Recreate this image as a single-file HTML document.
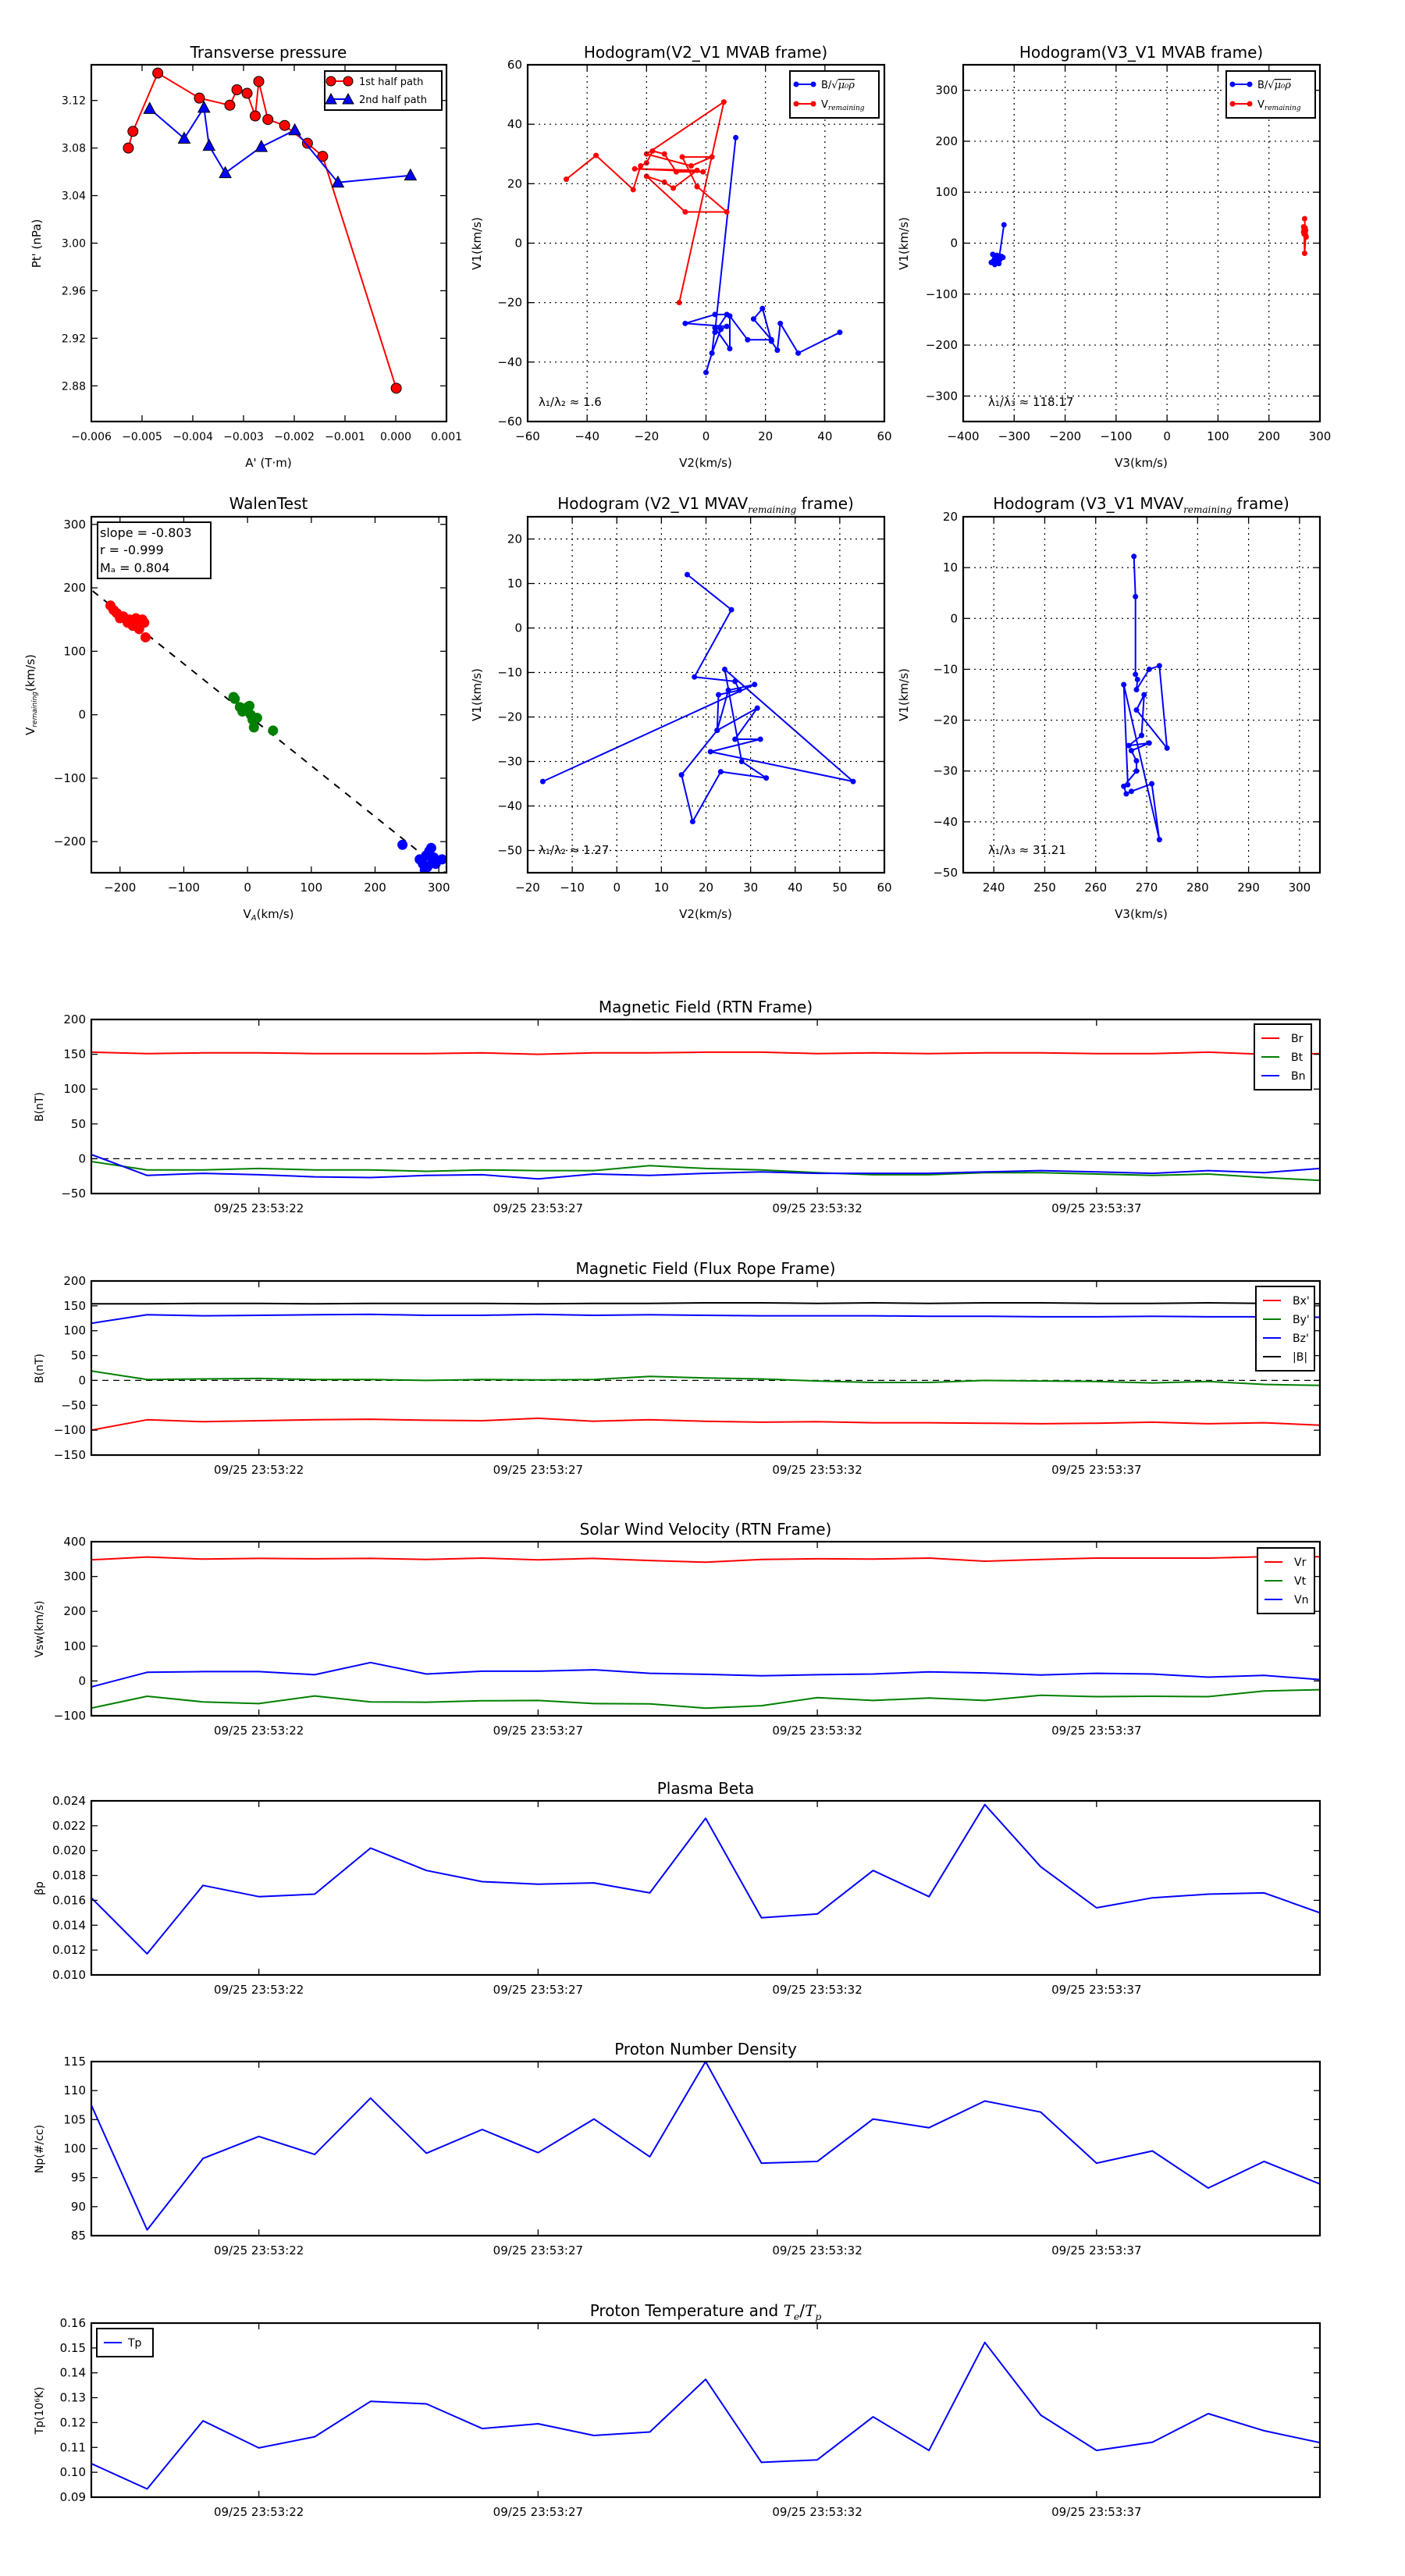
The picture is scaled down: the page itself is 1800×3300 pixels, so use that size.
<!DOCTYPE html>
<html><head><meta charset="utf-8">
<style>
html,body{margin:0;padding:0;background:#fff;}
svg{display:block;font-family:"DejaVu Sans","Liberation Sans",sans-serif;}
</style></head>
<body>
<svg id="chart" xmlns="http://www.w3.org/2000/svg" width="1800" height="3300" viewBox="0 0 1800 3300">
<rect x="0" y="0" width="1800" height="3300" fill="#fff"/>
</svg>
<script>
// ---------- data: transverse pressure ----------
const ptRedA = [-0.00527,-0.00518,-0.00469,-0.00387,-0.00327,-0.00313,-0.00293,-0.00277,-0.00270,-0.00252,-0.00219,-0.00174,-0.00144,0.00001];
const ptRedP = [3.080,3.094,3.143,3.122,3.116,3.129,3.126,3.107,3.136,3.104,3.099,3.084,3.073,2.878];
const ptBlueA = [-0.00485,-0.00417,-0.00378,-0.00368,-0.00336,-0.00265,-0.00199,-0.00114,0.00029];
const ptBlueP = [3.113,3.088,3.114,3.082,3.059,3.081,3.095,3.051,3.057];
// ---------- hodogram V2-V1 MVAB ----------
const h1RedV2 = [-47,-37,-24.5,-22,-20,-18,-14,-10,-1,-24,-3,-11,-14,-20,-7,7,-3,-8,2,-5,-20,6,-9];
const h1RedV1 = [21.5,29.5,18,26,27,31,30,24,24,25,24.5,18.5,20.5,22.5,10.5,10.5,19,29,29,26,30,47.5,-20];
const h1BlueV2 = [45,31,25,24,22,19,16,22,14,8,8,3,2,0,2,5,7,-7,3,7,3,10];
const h1BlueV1 = [-30,-37,-27,-36,-33,-22,-25.5,-32.5,-32.5,-24.5,-35.5,-28.5,-37,-43.5,-37,-29,-28,-27,-24,-24,-30,35.5];
// ---------- hodogram V3-V1 MVAB ----------
const h2BlueV3 = [-345,-338,-332,-340,-335,-328,-330,-342,-336,-325,-331,-338,-322,-334,-330,-320];
const h2BlueV1 = [-38,-30,-25,-34,-28,-32,-40,-22,-35,-26,-30,-42,-28,-24,-33,36];
const h2RedV3 = [270,271,268,272,269,270,273,271,269,270,272,268,271];
const h2RedV1 = [48,30,22,25,18,28,12,20,26,-20,15,32,22];
// ---------- Walen test ----------
const walRedX = [-215,-210,-205,-200,-195,-190,-188,-185,-180,-178,-175,-172,-170,-165,-162,-160];
const walRedY = [172,165,160,152,155,150,145,150,140,148,152,143,135,150,145,122];
const walGreenX = [-22,-20,-12,-8,-5,0,3,5,8,10,15,40];
const walGreenY = [28,25,12,5,8,12,14,0,-8,-20,-5,-25];
const walBlueX = [243,270,275,280,282,285,288,290,292,295,305,278];
const walBlueY = [-205,-228,-235,-222,-240,-215,-210,-230,-225,-235,-228,-245];
const walSlope = [-0.803];
// ---------- hodogram MVAV V2-V1 ----------
const h3V2 = [15.8,25.7,17.4,26.5,27.5,22.8,22.5,31.5,26.5,32.2,21,53,24.2,28,33.5,23.3,17,14.5,22.5,25,30.9,-16.6];
const h3V1 = [12,4.1,-11,-12,-14,-15,-23,-18,-25,-25,-27.8,-34.5,-9.3,-30,-33.7,-32.3,-43.5,-33,-23,-14,-12.7,-34.5];
// ---------- hodogram MVAV V3-V1 ----------
const h4V3 = [267.5,267.8,267.8,268.2,268,270.5,272.5,274,268,269.5,269,266.5,270.5,267,268,268,265.5,266,267,271,272.5,265.5,266.3];
const h4V1 = [12.2,4.3,-11,-12,-14,-10,-9.3,-25.5,-18,-15,-23,-25,-24.5,-26,-28,-30,-33,-34.5,-34,-32.5,-43.5,-13,-32.7];
// ---------- time series ----------
const timeTicks = ["09/25 23:53:22","09/25 23:53:27","09/25 23:53:32","09/25 23:53:37"];
const timeTickIdx = [3,8,13,18];
const Br = [153,151,152,152,151,151,151,152,150,152,152,153,153,151,152,151,152,152,151,151,153,150,151];
const Bt = [-4,-16,-16,-14,-16,-16,-18,-16,-17,-17,-10,-14,-16,-20,-23,-23,-20,-20,-22,-24,-22,-27,-31];
const Bn = [6,-24,-21,-23,-26,-27,-24,-23,-29,-22,-24,-21,-19,-21,-21,-21,-19,-17,-19,-21,-17,-20,-14];
const Bxp = [-100,-79,-83,-81,-79,-78,-80,-81,-76,-82,-79,-82,-84,-83,-85,-85,-86,-87,-86,-84,-87,-85,-90];
const Byp = [19,2,3,4,2,2,0,2,1,2,8,5,3,-1,-4,-4,0,-1,-2,-5,-2,-8,-10];
const Bzp = [115,132,130,131,132,133,131,131,133,131,132,131,130,130,130,129,129,128,128,129,128,128,127];
const Bmag = [154,154,155,155,154,155,155,155,154,155,155,156,156,155,156,155,156,156,155,155,156,155,154];
const Vr = [348,356,350,352,351,352,349,353,348,352,346,341,349,351,350,353,344,349,353,353,353,357,357];
const Vt = [-78,-44,-60,-65,-43,-60,-61,-57,-56,-65,-66,-78,-71,-48,-56,-49,-56,-41,-45,-44,-45,-29,-25];
const Vn = [-17,25,27,27,18,53,20,28,28,32,22,19,15,18,20,26,23,17,22,20,11,16,4];
const beta = [0.0162,0.0117,0.0172,0.0163,0.0165,0.0202,0.0184,0.0175,0.0173,0.0174,0.0166,0.0226,0.0146,0.0149,0.0184,0.0163,0.0237,0.0187,0.0154,0.0162,0.0165,0.0166,0.0150];
const Np = [107.5,86,98.3,102.1,99,108.7,99.2,103.3,99.3,105.1,98.6,115,97.5,97.8,105.1,103.6,108.2,106.3,97.5,99.6,93.2,97.8,93.9];
const Tp = [0.1035,0.0933,0.1207,0.1098,0.1143,0.1285,0.1275,0.1176,0.1195,0.1148,0.1162,0.1374,0.1040,0.1050,0.1223,0.1088,0.1522,0.1230,0.1088,0.1121,0.1236,0.1167,0.1119];

const svg = document.getElementById('chart');
const NS = 'http://www.w3.org/2000/svg';
let clipN = 0;
function mk(tag, attrs, parent, name){
  const el = document.createElementNS(NS, tag);
  for (const k in attrs) el.setAttribute(k, attrs[k]);
  
  
  (parent || svg).appendChild(el);
  return el;
}
function txt(x, y, s, size, anchor, parent, name, extra){
  const a = {x:x, y:y, 'font-size':size, 'text-anchor':anchor||'middle', fill:'#000'};
  if (extra) for (const k in extra) a[k] = extra[k];
  const t = mk('text', a, parent, name);
  t.textContent = s;
  return t;
}
function fmt(v, d){ const s = Math.abs(v).toFixed(d); return (v < -1e-12 ? '\u2212' : '') + s; }

function panel(name, L, T, W, H, xmin, xmax, ymin, ymax, opt){
  const g = mk('g', {}, svg, name);
  const sx = v => L + (v - xmin) / (xmax - xmin) * W;
  const sy = v => T + H - (v - ymin) / (ymax - ymin) * H;
  const id = 'clip' + (clipN++);
  const cp = mk('clipPath', {id:id}, g, name + '-clip');
  mk('rect', {x:L, y:T, width:W, height:H}, cp, name + '-clip-rect');
  const plot = mk('g', {'clip-path':'url(#' + id + ')'}, g, name + '-plot-area');
  // grid
  if (opt.grid){
    opt.xt.forEach(v => mk('line', {x1:sx(v), x2:sx(v), y1:T, y2:T+H, stroke:'#000', 'stroke-width':1.2, 'stroke-dasharray':'2,5'}, g, 'x-grid-line'));
    opt.yt.forEach(v => mk('line', {x1:L, x2:L+W, y1:sy(v), y2:sy(v), stroke:'#000', 'stroke-width':1.2, 'stroke-dasharray':'2,5'}, g, 'y-grid-line'));
  }
  // ticks
  const xtPos = opt.xtPos || opt.xt.map(sx);
  xtPos.forEach((px, i) => {
    mk('line', {x1:px, x2:px, y1:T, y2:T+8, stroke:'#000', 'stroke-width':1.3}, g, 'x-tick');
    mk('line', {x1:px, x2:px, y1:T+H, y2:T+H-8, stroke:'#000', 'stroke-width':1.3}, g, 'x-tick');
    txt(px, T + H + 24, opt.xl[i], opt.fs || 15, 'middle', g, 'x-tick-label');
  });
  opt.yt.forEach((v, i) => {
    const py = sy(v);
    mk('line', {x1:L, x2:L+8, y1:py, y2:py, stroke:'#000', 'stroke-width':1.3}, g, 'y-tick');
    mk('line', {x1:L+W, x2:L+W-8, y1:py, y2:py, stroke:'#000', 'stroke-width':1.3}, g, 'y-tick');
    txt(L - 7, py + 5, opt.yl[i], opt.fs || 15, 'end', g, 'y-tick-label');
  });
  return {g:g, plot:plot, sx:sx, sy:sy, L:L, T:T, W:W, H:H};
}
function frame(p, name){
  mk('rect', {x:p.L, y:p.T, width:p.W, height:p.H, fill:'none', stroke:'#000', 'stroke-width':2.2}, p.g, name + '-frame');
}
function line(p, xs, ys, color, name, w, dash){
  const pts = xs.map((x, i) => p.sx(x).toFixed(1) + ',' + p.sy(ys[i]).toFixed(1)).join(' ');
  const a = {points:pts, fill:'none', stroke:color, 'stroke-width':w || 2, 'stroke-linejoin':'round'};
  if (dash) a['stroke-dasharray'] = dash;
  return mk('polyline', a, p.plot, name);
}
function dots(p, xs, ys, color, r, name, stroke){
  xs.forEach((x, i) => mk('circle', {cx:p.sx(x), cy:p.sy(ys[i]), r:r, fill:color, stroke:stroke||'none', 'stroke-width':1}, p.plot, name));
}
function tris(p, xs, ys, color, name){
  xs.forEach((x, i) => {
    const cx = p.sx(x), cy = p.sy(ys[i]);
    mk('polygon', {points:(cx)+','+(cy-8)+' '+(cx-7.5)+','+(cy+6)+' '+(cx+7.5)+','+(cy+6), fill:color, stroke:'#000', 'stroke-width':1}, p.plot, name);
  });
}
function title(x, y, parts, size, name){
  const t = mk('text', {x:x, y:y, 'font-size':size, 'text-anchor':'middle', fill:'#000'}, svg, name);
  parts.forEach(pt => {
    const ts = mk('tspan', {}, t, 'title-part');
    if (pt.sub){ ts.setAttribute('font-size', size*0.62); ts.setAttribute('dy', 5); ts.setAttribute('font-style','italic'); ts.setAttribute('font-family','"DejaVu Serif",serif'); }
    if (pt.up){ ts.setAttribute('dy', -5); }
    if (pt.it){ ts.setAttribute('font-style','italic'); ts.setAttribute('font-family','"DejaVu Serif",serif'); }
    ts.textContent = pt.t;
  });
  return t;
}
function ylabel(x, y, s, size, name){
  return txt(x, y, s, size, 'middle', svg, name, {transform:'rotate(-90 '+x+' '+y+')'});
}
const rng = (a, b, s) => { const r = []; for (let v = a; v <= b + 1e-9; v += s) r.push(+v.toFixed(6)); return r; };

// ===== Panel 1: transverse pressure =====
{
  const xt = rng(-0.006, 0.001, 0.001), yt = rng(2.88, 3.12, 0.04);
  const p = panel('transverse-pressure-chart', 117, 83, 455, 457, -0.006, 0.001, 2.85, 3.15,
    {xt:xt, xl:xt.map(v => fmt(v,3)), yt:yt, yl:yt.map(v => v.toFixed(2)), fs:14});
  line(p, ptRedA, ptRedP, '#f00', 'first-half-path-line', 2);
  dots(p, ptRedA, ptRedP, '#f00', 6.5, 'first-half-marker', '#000');
  line(p, ptBlueA, ptBlueP, '#00f', 'second-half-path-line', 2);
  tris(p, ptBlueA, ptBlueP, '#00f', 'second-half-marker');
  frame(p, 'transverse-pressure');
  title(344, 74, [{t:'Transverse pressure'}], 20, 'transverse-pressure-title');
  txt(344, 598, "A' (T\u00B7m)", 15, 'middle', svg, 'x-axis-title');
  ylabel(52, 312, "Pt' (nPa)", 15, 'y-axis-title');
  const lg = mk('g', {}, svg, 'legend');
  mk('rect', {x:416, y:91, width:150, height:50, fill:'#fff', stroke:'#000', 'stroke-width':2}, lg, 'legend-box');
  mk('line', {x1:424, x2:446, y1:104, y2:104, stroke:'#f00', 'stroke-width':2}, lg, 'legend-line');
  mk('circle', {cx:424, cy:104, r:6, fill:'#f00', stroke:'#000'}, lg, 'legend-marker');
  mk('circle', {cx:446, cy:104, r:6, fill:'#f00', stroke:'#000'}, lg, 'legend-marker');
  txt(460, 109, '1st half path', 13, 'start', lg, 'legend-label');
  mk('line', {x1:424, x2:446, y1:127, y2:127, stroke:'#00f', 'stroke-width':2}, lg, 'legend-line');
  mk('polygon', {points:'424,120 417,133 431,133', fill:'#00f', stroke:'#000'}, lg, 'legend-marker');
  mk('polygon', {points:'446,120 439,133 453,133', fill:'#00f', stroke:'#000'}, lg, 'legend-marker');
  txt(460, 132, '2nd half path', 13, 'start', lg, 'legend-label');
}
function hodoLegend(x, y, redText){
  const lg = mk('g', {}, svg, 'legend');
  mk('rect', {x:x, y:y, width:114, height:60, fill:'#fff', stroke:'#000', 'stroke-width':2}, lg, 'legend-box');
  mk('line', {x1:x+8, x2:x+30, y1:y+17, y2:y+17, stroke:'#00f', 'stroke-width':2}, lg, 'legend-line');
  mk('circle', {cx:x+8, cy:y+17, r:3.5, fill:'#00f'}, lg, 'legend-marker');
  mk('circle', {cx:x+30, cy:y+17, r:3.5, fill:'#00f'}, lg, 'legend-marker');
  const t1 = txt(x+40, y+22, 'B/\u221A', 13, 'start', lg, 'legend-label');
  const s1 = mk('tspan', {'font-style':'italic', 'text-decoration':'overline', 'font-family':'"DejaVu Serif",serif'}, t1, 'legend-sub');
  s1.textContent = '\u03BC\u2080\u03C1';
  mk('line', {x1:x+8, x2:x+30, y1:y+42, y2:y+42, stroke:'#f00', 'stroke-width':2}, lg, 'legend-line');
  mk('circle', {cx:x+8, cy:y+42, r:3.5, fill:'#f00'}, lg, 'legend-marker');
  mk('circle', {cx:x+30, cy:y+42, r:3.5, fill:'#f00'}, lg, 'legend-marker');
  const t2 = txt(x+40, y+47, 'V', 13, 'start', lg, 'legend-label');
  const s2 = mk('tspan', {'font-size':9, dy:3, 'font-style':'italic', 'font-family':'"DejaVu Serif",serif'}, t2, 'legend-sub');
  s2.textContent = redText;
}
// ===== Panel 2: Hodogram V2_V1 MVAB =====
{
  const xt = rng(-60, 60, 20), yt = rng(-60, 60, 20);
  const p = panel('hodogram-v2-v1-mvab', 676, 83, 457, 457, -60, 60, -60, 60,
    {grid:true, xt:xt, xl:xt.map(v => fmt(v,0)), yt:yt, yl:yt.map(v => fmt(v,0)), fs:15});
  line(p, h1BlueV2, h1BlueV1, '#00f', 'b-alfven-path', 2);
  dots(p, h1BlueV2, h1BlueV1, '#00f', 3.5, 'b-alfven-point');
  line(p, h1RedV2, h1RedV1, '#f00', 'v-remaining-path', 2);
  dots(p, h1RedV2, h1RedV1, '#f00', 3.5, 'v-remaining-point');
  frame(p, 'hodogram-v2-v1-mvab');
  title(904, 74, [{t:'Hodogram(V2_V1 MVAB frame)'}], 20, 'hodogram-v2-v1-mvab-title');
  txt(904, 598, 'V2(km/s)', 15, 'middle', svg, 'x-axis-title');
  ylabel(616, 312, 'V1(km/s)', 15, 'y-axis-title');
  const t = txt(690, 520, '\u03BB\u2081/\u03BB\u2082 \u2248 1.6', 15, 'start', svg, 'eigenvalue-ratio');
  hodoLegend(1012, 91, 'remaining');
}
// ===== Panel 3: Hodogram V3_V1 MVAB =====
{
  const xt = rng(-400, 300, 100), yt = rng(-300, 300, 100);
  const p = panel('hodogram-v3-v1-mvab', 1234, 83, 457, 457, -400, 300, -350, 350,
    {grid:true, xt:xt, xl:xt.map(v => fmt(v,0)), yt:yt, yl:yt.map(v => fmt(v,0)), fs:15});
  line(p, h2BlueV3, h2BlueV1, '#00f', 'b-alfven-path', 2);
  dots(p, h2BlueV3, h2BlueV1, '#00f', 3.5, 'b-alfven-point');
  line(p, h2RedV3, h2RedV1, '#f00', 'v-remaining-path', 2);
  dots(p, h2RedV3, h2RedV1, '#f00', 3.5, 'v-remaining-point');
  frame(p, 'hodogram-v3-v1-mvab');
  title(1462, 74, [{t:'Hodogram(V3_V1 MVAB frame)'}], 20, 'hodogram-v3-v1-mvab-title');
  txt(1462, 598, 'V3(km/s)', 15, 'middle', svg, 'x-axis-title');
  ylabel(1163, 312, 'V1(km/s)', 15, 'y-axis-title');
  txt(1266, 520, '\u03BB\u2081/\u03BB\u2083 \u2248 118.17', 15, 'start', svg, 'eigenvalue-ratio');
  hodoLegend(1571, 91, 'remaining');
}
// ===== Panel 4: Walen test =====
{
  const xt = rng(-200, 300, 100), yt = rng(-200, 300, 100);
  const p = panel('walen-test-chart', 117, 662, 455, 456, -245, 312, -249, 312,
    {xt:xt, xl:xt.map(v => fmt(v,0)), yt:yt, yl:yt.map(v => fmt(v,0)), fs:15});
  line(p, [-260, 320], [-260*walSlope[0], 320*walSlope[0]], '#000', 'fit-line', 2, '9,9');
  dots(p, walRedX, walRedY, '#f00', 6.5, 'walen-point-red');
  dots(p, walGreenX, walGreenY, '#008000', 6.5, 'walen-point-green');
  dots(p, walBlueX, walBlueY, '#00f', 6.5, 'walen-point-blue');
  frame(p, 'walen-test');
  title(344, 652, [{t:'WalenTest'}], 20, 'walen-test-title');
  const xl = txt(344, 1176, 'V', 15, 'middle', svg, 'x-axis-title');
  const xs = mk('tspan', {'font-size':10, dy:3, 'font-style':'italic'}, xl, 'x-axis-title-sub'); xs.textContent = 'A';
  const xs2 = mk('tspan', {dy:-3}, xl, 'x-axis-title-rest'); xs2.textContent = '(km/s)';
  const yl = txt(44, 890, 'V', 15, 'middle', svg, 'y-axis-title', {transform:'rotate(-90 44 890)'});
  const ys = mk('tspan', {'font-size':9, dy:3, 'font-style':'italic'}, yl, 'y-axis-title-sub'); ys.textContent = 'remaining';
  const ys2 = mk('tspan', {dy:-3}, yl, 'y-axis-title-rest'); ys2.textContent = '(km/s)';
  const tb = mk('g', {}, svg, 'fit-stats-box');
  mk('rect', {x:125, y:669, width:145, height:72, fill:'#fff', stroke:'#000', 'stroke-width':2}, tb, 'fit-stats-frame');
  txt(128, 688, 'slope = ' + walSlope[0].toFixed(3), 16, 'start', tb, 'slope-text');
  txt(128, 710, 'r = -0.999', 16, 'start', tb, 'r-text', {'font-style':'normal'});
  txt(128, 733, 'M\u2090 = 0.804', 16, 'start', tb, 'ma-text');
}
function titleSub(x, y, pre, sub, post, name){
  const t = mk('text', {x:x, y:y, 'font-size':20, 'text-anchor':'middle', fill:'#000'}, svg, name);
  const a = mk('tspan', {}, t, 'title-part'); a.textContent = pre;
  const b = mk('tspan', {'font-size':12, dy:5, 'font-style':'italic', 'font-family':'"DejaVu Serif",serif'}, t, 'title-sub'); b.textContent = sub;
  const c = mk('tspan', {dy:-5}, t, 'title-part'); c.textContent = post;
}
// ===== Panel 5: MVAV V2-V1 =====
{
  const xt = rng(-20, 60, 10), yt = rng(-50, 20, 10);
  const p = panel('hodogram-v2-v1-mvav', 676, 662, 457, 456, -20, 60, -55, 25,
    {grid:true, xt:xt, xl:xt.map(v => fmt(v,0)), yt:yt, yl:yt.map(v => fmt(v,0)), fs:15});
  line(p, h3V2, h3V1, '#00f', 'hodogram-path', 2);
  dots(p, h3V2, h3V1, '#00f', 3.5, 'hodogram-point');
  frame(p, 'hodogram-v2-v1-mvav');
  titleSub(904, 652, 'Hodogram (V2_V1 MVAV', 'remaining', ' frame)', 'hodogram-v2-v1-mvav-title');
  txt(904, 1176, 'V2(km/s)', 15, 'middle', svg, 'x-axis-title');
  ylabel(616, 890, 'V1(km/s)', 15, 'y-axis-title');
  txt(690, 1094, '\u03BB\u2081/\u03BB\u2082 \u2248 1.27', 15, 'start', svg, 'eigenvalue-ratio');
}
// ===== Panel 6: MVAV V3-V1 =====
{
  const xt = rng(240, 300, 10), yt = rng(-50, 20, 10);
  const p = panel('hodogram-v3-v1-mvav', 1234, 662, 457, 456, 234, 304, -50, 20,
    {grid:true, xt:xt, xl:xt.map(v => fmt(v,0)), yt:yt, yl:yt.map(v => fmt(v,0)), fs:15});
  line(p, h4V3, h4V1, '#00f', 'hodogram-path', 2);
  dots(p, h4V3, h4V1, '#00f', 3.5, 'hodogram-point');
  frame(p, 'hodogram-v3-v1-mvav');
  titleSub(1462, 652, 'Hodogram (V3_V1 MVAV', 'remaining', ' frame)', 'hodogram-v3-v1-mvav-title');
  txt(1462, 1176, 'V3(km/s)', 15, 'middle', svg, 'x-axis-title');
  ylabel(1163, 890, 'V1(km/s)', 15, 'y-axis-title');
  txt(1266, 1094, '\u03BB\u2081/\u03BB\u2083 \u2248 31.21', 15, 'start', svg, 'eigenvalue-ratio');
}
// ===== Time series panels =====
const idx = Br.map((_, i) => i);
function tsPanel(name, T, ymin, ymax, ystep, dec, series, ttl, ylab, legend, zero){
  const yt = rng(ymin, ymax, ystep);
  const p = panel(name, 117, T, 1574, 223, 0, idx.length - 1, ymin, ymax,
    {xt:timeTickIdx, xl:timeTicks, yt:yt, yl:yt.map(v => fmt(v, dec)), fs:15});
  if (zero) line(p, [0, idx.length - 1], [0, 0], '#000', 'zero-line', 1.2, '8,6');
  series.forEach(s => line(p, idx, s.d, s.c, s.n, 2));
  frame(p, name);
  if (ttl) ttl(T - 9);
  ylabel(55, T + 112, ylab, 14, name + '-y-axis-title');
  if (legend){
    const lg = mk('g', {}, svg, 'legend');
    const lx = legend.x, ly = legend.y;
    mk('rect', {x:lx, y:ly, width:legend.w, height:series.length * 24 + 12, fill:'#fff', stroke:'#000', 'stroke-width':2}, lg, 'legend-box');
    series.forEach((s, i) => {
      mk('line', {x1:lx + 9, x2:lx + 32, y1:ly + 18 + i * 24, y2:ly + 18 + i * 24, stroke:s.c, 'stroke-width':2}, lg, 'legend-line');
      txt(lx + legend.tx, ly + 23 + i * 24, s.label, 14, 'start', lg, 'legend-label');
    });
  }
  return p;
}
tsPanel('magnetic-field-rtn-chart', 1306, -50, 200, 50, 0,
  [{d:Br, c:'#f00', n:'br-line', label:'Br'}, {d:Bt, c:'#008000', n:'bt-line', label:'Bt'}, {d:Bn, c:'#00f', n:'bn-line', label:'Bn'}],
  y => title(904, y, [{t:'Magnetic Field (RTN Frame)'}], 20, 'magnetic-field-rtn-title'), 'B(nT)', {x:1607, y:1312, w:73, tx:47}, true);
tsPanel('magnetic-field-flux-rope-chart', 1641, -150, 200, 50, 0,
  [{d:Bxp, c:'#f00', n:'bx-line', label:"Bx'"}, {d:Byp, c:'#008000', n:'by-line', label:"By'"}, {d:Bzp, c:'#00f', n:'bz-line', label:"Bz'"}, {d:Bmag, c:'#000', n:'b-magnitude-line', label:'|B|'}],
  y => title(904, y, [{t:'Magnetic Field (Flux Rope Frame)'}], 20, 'magnetic-field-flux-rope-title'), 'B(nT)', {x:1609, y:1648, w:75, tx:47}, true);
tsPanel('solar-wind-velocity-chart', 1975, -100, 400, 100, 0,
  [{d:Vr, c:'#f00', n:'vr-line', label:'Vr'}, {d:Vt, c:'#008000', n:'vt-line', label:'Vt'}, {d:Vn, c:'#00f', n:'vn-line', label:'Vn'}],
  y => title(904, y, [{t:'Solar Wind Velocity (RTN Frame)'}], 20, 'solar-wind-velocity-title'), 'Vsw(km/s)', {x:1611, y:1983, w:73, tx:47}, false);
tsPanel('plasma-beta-chart', 2307, 0.010, 0.024, 0.002, 3,
  [{d:beta, c:'#00f', n:'beta-line', label:'beta'}],
  y => title(904, y, [{t:'Plasma Beta'}], 20, 'plasma-beta-title'), '\u03B2p', null, false);
tsPanel('proton-density-chart', 2641, 85, 115, 5, 0,
  [{d:Np, c:'#00f', n:'np-line', label:'Np'}],
  y => title(904, y, [{t:'Proton Number Density'}], 20, 'proton-density-title'), 'Np(#/cc)', null, false);
tsPanel('proton-temperature-chart', 2976, 0.09, 0.16, 0.01, 2,
  [{d:Tp, c:'#00f', n:'tp-line', label:'Tp'}],
  y => title(904, y, [{t:'Proton Temperature and '}, {t:'T', it:true}, {t:'e', sub:true}, {t:'/', up:true}, {t:'T', it:true}, {t:'p', sub:true}], 20, 'proton-temperature-title'),
  'Tp(10\u2076K)', {x:124, y:2983, w:72, tx:40}, false);
</script>
</body></html>
